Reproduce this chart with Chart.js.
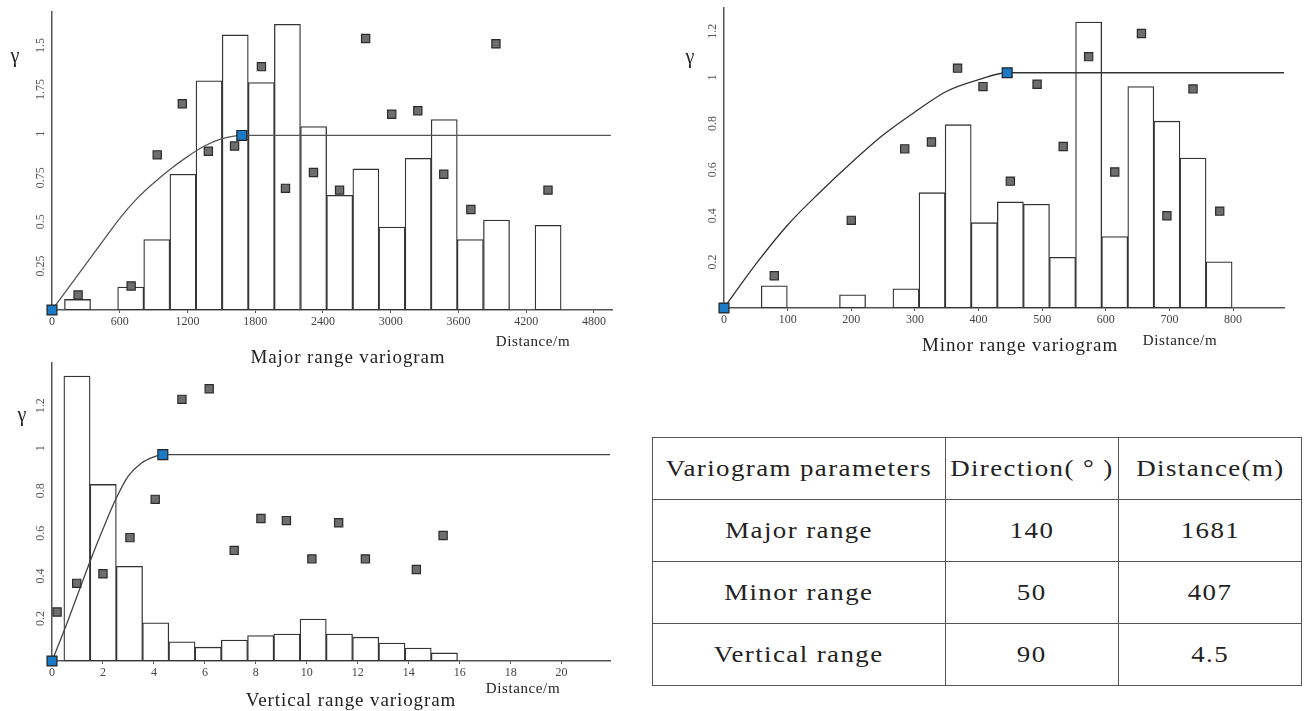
<!DOCTYPE html>
<html>
<head>
<meta charset="utf-8">
<script src="https://cdn.jsdelivr.net/npm/chart.js@4/dist/chart.umd.min.js"></script>
<style>
  html, body { margin: 0; padding: 0; background: #fff; }
  body { width: 1304px; height: 711px; position: relative; overflow: hidden; font-family: "Liberation Serif", "DejaVu Serif", serif; color: #222; }
  canvas { position: absolute; }
  .lbl { position: absolute; white-space: nowrap; transform: translate(-50%, -50%); }
  .gamma { font-size: 20px; }
  .title { font-size: 19px; letter-spacing: 0.9px; }
  .dist { font-size: 15px; letter-spacing: 0.6px; }
  table { position: absolute; left: 652px; top: 437px; border-collapse: collapse; font-size: 23px; letter-spacing: 1.2px; }
  td { border: 1.5px solid #555; text-align: center; height: 61px; padding: 0; }
  td span { display: inline-block; transform: scaleX(1.17); white-space: nowrap; }
</style>
</head>
<body>

<canvas id="chart-major" width="640" height="350" style="left:0;top:0"></canvas>
<canvas id="chart-minor" width="634" height="350" style="left:670px;top:0"></canvas>
<canvas id="chart-vertical" width="640" height="356" style="left:0;top:355px"></canvas>

<div class="lbl gamma" style="left:15px;top:55px">γ</div>
<div class="lbl gamma" style="left:690px;top:56px">γ</div>
<div class="lbl gamma" style="left:22px;top:414px">γ</div>

<div class="lbl title" style="left:348px;top:357px">Major range variogram</div>
<div class="lbl dist" style="left:533px;top:341px">Distance/m</div>
<div class="lbl title" style="left:1020px;top:345px">Minor range variogram</div>
<div class="lbl dist" style="left:1180px;top:340px">Distance/m</div>
<div class="lbl title" style="left:351px;top:700px">Vertical range variogram</div>
<div class="lbl dist" style="left:523px;top:688px">Distance/m</div>

<table>
  <tr><td style="width:292px"><span>Variogram parameters</span></td><td style="width:172px"><span>Direction( ° )</span></td><td style="width:182px"><span>Distance(m)</span></td></tr>
  <tr><td><span>Major range</span></td><td><span>140</span></td><td><span>1681</span></td></tr>
  <tr><td><span>Minor range</span></td><td><span>50</span></td><td><span>407</span></td></tr>
  <tr><td><span>Vertical range</span></td><td><span>90</span></td><td><span>4.5</span></td></tr>
</table>

<script>
// ================================
//   MAJOR RANGE
// ================================
const majorBinX = [226, 697, 928, 1160, 1391, 1623, 1854, 2085, 2317, 2548, 2780, 3011, 3243, 3474, 3705, 3937, 4394];
const majorBinY = [0.06, 0.13, 0.40, 0.77, 1.30, 1.56, 1.29, 1.62, 1.04, 0.65, 0.80, 0.47, 0.86, 1.08, 0.40, 0.51, 0.48];
const majorLagX = [231, 701, 932, 1154, 1385, 1617, 1855, 2068, 2316, 2547, 2778, 3009, 3240, 3470, 3710, 3932, 4393];
const majorGamma = [0.085, 0.136, 0.88, 1.17, 0.90, 0.93, 1.38, 0.69, 0.78, 0.68, 1.54, 1.11, 1.13, 0.77, 0.57, 1.51, 0.68];
const majorModelX = [0, 150, 300, 450, 600, 750, 900, 1050, 1200, 1350, 1500, 1681, 4950];
const majorModelY = [0, 0.13, 0.26, 0.39, 0.52, 0.63, 0.72, 0.80, 0.87, 0.93, 0.97, 0.99, 0.99];
const majorXTicks = [0, 600, 1200, 1800, 2400, 3000, 3600, 4200, 4800];
const majorYTicks = [0.25, 0.5, 0.75, 1, 1.25, 1.5];
const majorYLabels = ["0.25", "0.5", "0.75", "1", "1.75", "1.5"];

// ================================
//   MINOR RANGE
// ================================
const minorBinX = [79, 202, 286, 327, 368, 409, 450, 491, 532, 573, 614, 655, 696, 737, 778];
const minorBinY = [0.096, 0.057, 0.083, 0.50, 0.795, 0.37, 0.46, 0.45, 0.22, 1.24, 0.31, 0.96, 0.81, 0.65, 0.20];
const minorLagX = [79, 200, 284, 326, 367, 407, 450, 492, 533, 573, 614, 656, 696, 737, 779];
const minorGamma = [0.14, 0.38, 0.69, 0.72, 1.04, 0.96, 0.55, 0.97, 0.70, 1.09, 0.59, 1.19, 0.40, 0.95, 0.42];
const minorModelX = [0, 50, 100, 150, 200, 250, 300, 350, 400, 445, 880];
const minorModelY = [0, 0.19, 0.36, 0.50, 0.63, 0.75, 0.85, 0.94, 0.99, 1.02, 1.02];
const minorXTicks = [0, 100, 200, 300, 400, 500, 600, 700, 800];
const minorYTicks = [0.2, 0.4, 0.6, 0.8, 1, 1.2];
const minorYLabels = ["0.2", "0.4", "0.6", "0.8", "1", "1.2"];

// ================================
//   VERTICAL RANGE
// ================================
const vertBinX = [0.98, 2.01, 3.04, 4.07, 5.10, 6.13, 7.16, 8.19, 9.22, 10.25, 11.28, 12.31, 13.34, 14.37, 15.40];
const vertBinY = [1.34, 0.83, 0.445, 0.18, 0.09, 0.065, 0.098, 0.12, 0.127, 0.197, 0.127, 0.112, 0.084, 0.061, 0.038];
const vertLagX = [0.2, 0.97, 2.0, 3.06, 4.05, 5.1, 6.17, 7.15, 8.2, 9.2, 10.2, 11.25, 12.3, 14.3, 15.35];
const vertGamma = [0.23, 0.365, 0.41, 0.58, 0.76, 1.23, 1.28, 0.52, 0.67, 0.66, 0.48, 0.65, 0.48, 0.43, 0.59];
const vertModelX = [0, 0.5, 1, 1.5, 2, 2.5, 3, 3.5, 4, 4.35, 21.9];
const vertModelY = [0, 0.15, 0.31, 0.47, 0.62, 0.76, 0.87, 0.93, 0.96, 0.97, 0.97];
const vertXTicks = [0, 2, 4, 6, 8, 10, 12, 14, 16, 18, 20];
const vertYTicks = [0.2, 0.4, 0.6, 0.8, 1, 1.2];
const vertYLabels = ["0.2", "0.4", "0.6", "0.8", "1", "1.2"];

const toXY = (xs, ys) => xs.map((x, i) => ({ x: x, y: ys[i] }));

// y tick labels are rotated in the original, draw them here
const rotatedYTicks = {
    id: "rotatedY",
    afterDraw(chart, args, opts) {
        const ctx = chart.ctx;
        const yScale = chart.scales.y;
        ctx.save();
        ctx.font = '12px "Liberation Serif"';
        ctx.fillStyle = "#555";
        ctx.textAlign = "center";
        ctx.textBaseline = "middle";
        opts.values.forEach((v, i) => {
            ctx.save();
            ctx.translate(chart.chartArea.left - opts.offset, yScale.getPixelForValue(v));
            ctx.rotate(-Math.PI / 2);
            ctx.fillText(opts.labels[i], 0, 0);
            ctx.restore();
        });
        ctx.restore();
    }
};

function buildVariogram(id, d, layout) {
    // first point of the model and the range point get the blue squares
    const rangePts = [0, d.modelX.length - 2].map(i => ({ x: d.modelX[i], y: d.modelY[i] }));

    return new Chart(document.getElementById(id), {
        type: "bar",
        data: {
            datasets: [
                {
                    type: "scatter",
                    data: rangePts,
                    pointStyle: "rect",
                    pointRadius: 7,
                    backgroundColor: "#1b7ac6",
                    borderColor: "#222",
                    borderWidth: 1.2,
                    clip: false,
                    order: 0
                },
                {
                    type: "scatter",
                    data: toXY(d.lagX, d.gamma),
                    pointStyle: "rect",
                    pointRadius: 5.8,
                    backgroundColor: "#6e6e6e",
                    borderColor: "#2b2b2b",
                    borderWidth: 1.2,
                    clip: false,
                    order: 1
                },
                {
                    type: "line",
                    data: toXY(d.modelX, d.modelY),
                    borderColor: layout.lineColor,
                    borderWidth: 1.3,
                    pointRadius: 0,
                    fill: false,
                    cubicInterpolationMode: "monotone",
                    order: 2
                },
                {
                    type: "bar",
                    data: toXY(d.binX, d.binY),
                    backgroundColor: "#fff",
                    borderColor: "#333",
                    borderWidth: 1.3,
                    borderSkipped: false,
                    barPercentage: 1,
                    categoryPercentage: 1,
                    order: 3
                }
            ]
        },
        options: {
            responsive: false,
            animation: false,
            layout: { padding: { top: layout.padTop, right: layout.padRight, left: 0, bottom: 0 } },
            plugins: {
                legend: { display: false },
                tooltip: { enabled: false },
                rotatedY: { values: d.yTicks, labels: d.yLabels, offset: 11 }
            },
            scales: {
                x: {
                    type: "linear",
                    offset: false,
                    min: 0,
                    max: d.xMax,
                    border: { color: "#555", width: 1.5 },
                    grid: { display: true, offset: false, drawOnChartArea: false, tickLength: 3, color: "#555" },
                    afterBuildTicks: s => { s.ticks = d.xTicks.map(v => ({ value: v })); },
                    ticks: {
                        maxRotation: 0,
                        autoSkip: false,
                        padding: 2,
                        color: "#444",
                        font: { family: "Liberation Serif", size: 12 },
                        callback: v => String(v)
                    },
                    afterFit: s => { s.height = layout.xAxisHeight; }
                },
                y: {
                    min: 0,
                    max: d.yMax,
                    border: { color: "#555", width: 1.5 },
                    grid: { display: false },
                    ticks: { display: false },
                    afterFit: s => { s.width = layout.yAxisWidth; }
                }
            }
        },
        plugins: [rotatedYTicks]
    });
}

// INIT
buildVariogram("chart-major", {
    binX: majorBinX, binY: majorBinY, lagX: majorLagX, gamma: majorGamma,
    modelX: majorModelX, modelY: majorModelY, xTicks: majorXTicks,
    yTicks: majorYTicks, yLabels: majorYLabels, xMax: 4960, yMax: 1.69
}, { padTop: 12, padRight: 28, yAxisWidth: 52, xAxisHeight: 40, lineColor: "#555" });

buildVariogram("chart-minor", {
    binX: minorBinX, binY: minorBinY, lagX: minorLagX, gamma: minorGamma,
    modelX: minorModelX, modelY: minorModelY, xTicks: minorXTicks,
    yTicks: minorYTicks, yLabels: minorYLabels, xMax: 880, yMax: 1.3
}, { padTop: 8, padRight: 20, yAxisWidth: 54, xAxisHeight: 42, lineColor: "#333" });

buildVariogram("chart-vertical", {
    binX: vertBinX, binY: vertBinY, lagX: vertLagX, gamma: vertGamma,
    modelX: vertModelX, modelY: vertModelY, xTicks: vertXTicks,
    yTicks: vertYTicks, yLabels: vertYLabels, xMax: 21.9, yMax: 1.4
}, { padTop: 7, padRight: 30, yAxisWidth: 52, xAxisHeight: 50, lineColor: "#444" });
</script>
</body>
</html>
